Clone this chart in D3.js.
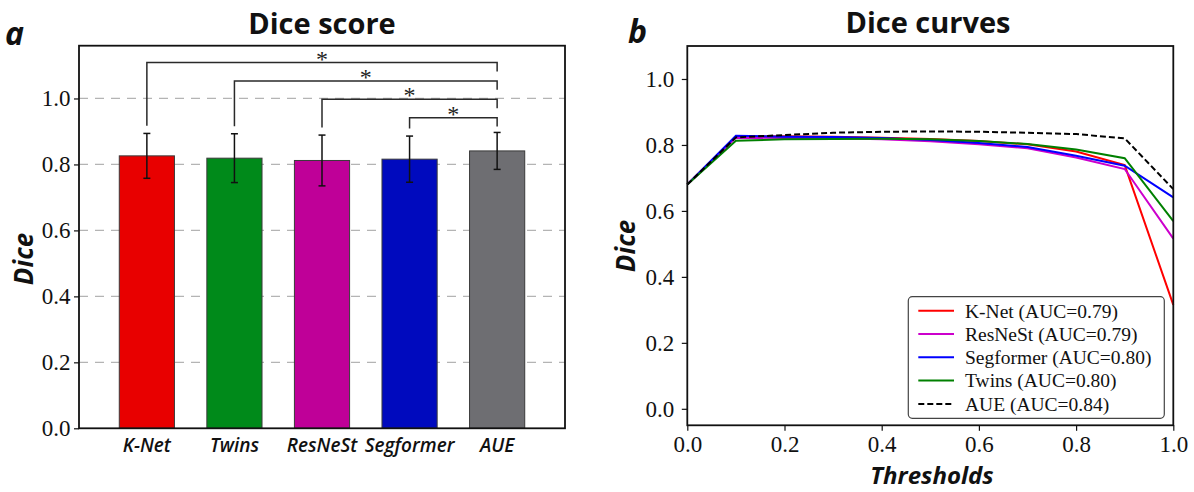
<!DOCTYPE html>
<html>
<head>
<meta charset="utf-8">
<script src="https://cdn.jsdelivr.net/npm/d3@7"></script>
<style>
  html, body { margin: 0; padding: 0; background: #fff; }
  svg { display: block; }
</style>
</head>
<body>
<svg id="chart" width="1194" height="492"></svg>
<script>
// ---------------- DATA ----------------
const categories = ["K-Net", "Twins", "ResNeSt", "Segformer", "AUE"];
const diceMeans  = [0.826, 0.819, 0.812, 0.816, 0.841];
const diceErrors = [0.068, 0.074, 0.077, 0.070, 0.056];
const barColors  = ["#e80000", "#008a1a", "#bf0098", "#000abe", "#6e6e72"];
const comparisons = [["K-Net", "AUE"], ["Twins", "AUE"], ["ResNeSt", "AUE"], ["Segformer", "AUE"]];
const compLabels  = ["*", "*", "*", "*"];
const barTicks = [0.0, 0.2, 0.4, 0.6, 0.8, 1.0];

const thresholds = [0.0, 0.1, 0.2, 0.3, 0.4, 0.5, 0.6, 0.7, 0.8, 0.9, 1.0];
const knetCurve      = [0.680, 0.825, 0.826, 0.825, 0.822, 0.818, 0.812, 0.802, 0.780, 0.739, 0.315];
const resnestCurve   = [0.680, 0.822, 0.821, 0.820, 0.817, 0.811, 0.802, 0.790, 0.762, 0.727, 0.516];
const segformerCurve = [0.680, 0.828, 0.825, 0.824, 0.821, 0.815, 0.806, 0.794, 0.767, 0.737, 0.641];
const twinsCurve     = [0.680, 0.813, 0.817, 0.818, 0.819, 0.817, 0.812, 0.803, 0.786, 0.760, 0.569];
const aueCurve       = [0.680, 0.823, 0.830, 0.837, 0.840, 0.841, 0.840, 0.837, 0.833, 0.820, 0.666];
const curveNames  = ["K-Net (AUC=0.79)", "ResNeSt (AUC=0.79)", "Segformer (AUC=0.80)", "Twins (AUC=0.80)", "AUE (AUC=0.84)"];
const curveColors = ["#ff0000", "#cc00cc", "#0000ff", "#008000", "#000000"];
const curveTicksX = [0.0, 0.2, 0.4, 0.6, 0.8, 1.0];
const curveTicksY = [0.0, 0.2, 0.4, 0.6, 0.8, 1.0];

// ---------------- SETUP ----------------
const svg = d3.select("#chart");
const serif = "'Liberation Serif', 'Times New Roman', serif";
const sans = "'Open Sans', 'Lato', sans-serif";
const fmt = d3.format(".1f");

// ================= PANEL A =================
const A = { left: 79, right: 565, top: 45.7, bottom: 428.3 };
const xA = d3.scaleBand().domain(categories).range([A.left, A.right]).paddingInner(0.37).paddingOuter(0.46);
const yA = d3.scaleLinear().domain([0, 1.16]).range([A.bottom, A.top]);

const gA = svg.append("g");

// grid
gA.append("g").selectAll("line").data(barTicks.filter(d => d > 0)).join("line")
  .attr("x1", A.left).attr("x2", A.right)
  .attr("y1", d => yA(d)).attr("y2", d => yA(d))
  .attr("stroke", "#b4b4b4").attr("stroke-width", 1.3).attr("stroke-dasharray", "9,7");

// bars
gA.append("g").selectAll("rect").data(categories).join("rect")
  .attr("x", d => xA(d)).attr("width", xA.bandwidth())
  .attr("y", (d, i) => yA(diceMeans[i]))
  .attr("height", (d, i) => yA(0) - yA(diceMeans[i]))
  .attr("fill", (d, i) => barColors[i])
  .attr("stroke", "#3a3a3a").attr("stroke-width", 1);

// error bars
const eb = gA.append("g").attr("stroke", "#111").attr("stroke-width", 1.5);
categories.forEach((c, i) => {
  const cx = xA(c) + xA.bandwidth() / 2;
  const lo = yA(diceMeans[i] - diceErrors[i]), hi = yA(diceMeans[i] + diceErrors[i]);
  eb.append("line").attr("x1", cx).attr("x2", cx).attr("y1", lo).attr("y2", hi);
  eb.append("line").attr("x1", cx - 3.5).attr("x2", cx + 3.5).attr("y1", lo).attr("y2", lo);
  eb.append("line").attr("x1", cx - 3.5).attr("x2", cx + 3.5).attr("y1", hi).attr("y2", hi);
});

// significance brackets
const br = gA.append("g");
comparisons.forEach((pair, k) => {
  const i0 = categories.indexOf(pair[0]), i1 = categories.indexOf(pair[1]);
  const x0 = xA(pair[0]) + xA.bandwidth() / 2, x1 = xA(pair[1]) + xA.bandwidth() / 2;
  const level = 1.109 - k * 0.0557;
  const leftEnd = diceMeans[i0] + diceErrors[i0] + 0.023;
  const rightEnd = level - 0.027;
  br.append("path")
    .attr("d", `M${x0},${yA(leftEnd)}V${yA(level)}H${x1}V${yA(rightEnd)}`)
    .attr("fill", "none").attr("stroke", "#2a2a2a").attr("stroke-width", 1.5);
  br.append("text").attr("x", (x0 + x1) / 2).attr("y", yA(level) + 4)
    .attr("text-anchor", "middle").attr("font-family", serif).attr("font-size", 24)
    .attr("fill", "#222").text(compLabels[k]);
});

// frame
gA.append("rect").attr("x", A.left).attr("y", A.top)
  .attr("width", A.right - A.left).attr("height", A.bottom - A.top)
  .attr("fill", "none").attr("stroke", "#111").attr("stroke-width", 1.8);

// y axis
const axA = gA.append("g").attr("transform", `translate(${A.left},0)`)
  .call(d3.axisLeft(yA).tickValues(barTicks).tickFormat(fmt).tickSize(5).tickPadding(3.5));
axA.select(".domain").remove();
axA.selectAll("line").attr("stroke", "#111").attr("stroke-width", 1.2);
axA.selectAll("text").attr("font-family", serif).attr("font-size", 23).attr("fill", "#111");

// x labels
gA.append("g").selectAll("text").data(categories).join("text")
  .attr("x", d => xA(d) + xA.bandwidth() / 2).attr("y", 452)
  .attr("text-anchor", "middle").attr("font-family", sans).attr("font-style", "italic")
  .attr("font-weight", 600).attr("font-size", 19).attr("fill", "#111").text(d => d);

// labels
gA.append("text").attr("x", 322).attr("y", 34).attr("text-anchor", "middle")
  .attr("font-family", sans).attr("font-weight", 700).attr("font-size", 29).attr("fill", "#111").text("Dice score");
gA.append("text").attr("x", 5).attr("y", 45)
  .attr("font-family", sans).attr("font-weight", 700).attr("font-style", "italic").attr("font-size", 32).attr("fill", "#111").text("a");
gA.append("text").attr("transform", "translate(33,259) rotate(-90)").attr("text-anchor", "middle")
  .attr("font-family", sans).attr("font-weight", 700).attr("font-style", "italic").attr("font-size", 26).attr("fill", "#111").text("Dice");

// ================= PANEL B =================
const B = { left: 687.3, right: 1173.3, top: 46, bottom: 425.3 };
const xB = d3.scaleLinear().domain([0, 1]).range([B.left, B.right]);
const yB = d3.scaleLinear().domain([-0.05, 1.1]).range([B.bottom, B.top]);
const gB = svg.append("g");

const curves = [knetCurve, resnestCurve, segformerCurve, twinsCurve, aueCurve];
const line = d3.line().x((d, i) => xB(thresholds[i])).y(d => yB(d));
curves.forEach((c, k) => {
  gB.append("path").datum(c).attr("d", line)
    .attr("fill", "none").attr("stroke", curveColors[k]).attr("stroke-width", 2)
    .attr("stroke-dasharray", k === 4 ? "6,3" : null);
});

// frame
gB.append("rect").attr("x", B.left).attr("y", B.top)
  .attr("width", B.right - B.left).attr("height", B.bottom - B.top)
  .attr("fill", "none").attr("stroke", "#111").attr("stroke-width", 1.8);

const axBy = gB.append("g").attr("transform", `translate(${B.left},0)`)
  .call(d3.axisLeft(yB).tickValues(curveTicksY).tickFormat(fmt).tickSize(5.5).tickPadding(7.5));
axBy.select(".domain").remove();
const axBx = gB.append("g").attr("transform", `translate(0,${B.bottom})`)
  .call(d3.axisBottom(xB).tickValues(curveTicksX).tickFormat(fmt).tickSize(5.5).tickPadding(5));
axBx.select(".domain").remove();
[axBy, axBx].forEach(ax => {
  ax.selectAll("line").attr("stroke", "#111").attr("stroke-width", 1.2);
  ax.selectAll("text").attr("font-family", serif).attr("font-size", 23).attr("fill", "#111");
});

// legend
const L = { x: 908.3, y: 296.7, w: 256, h: 121.6 };
const lg = gB.append("g");
lg.append("rect").attr("x", L.x).attr("y", L.y).attr("width", L.w).attr("height", L.h)
  .attr("rx", 4).attr("fill", "#fff").attr("fill-opacity", 0.9)
  .attr("stroke", "#444").attr("stroke-width", 1.2);
curveNames.forEach((name, k) => {
  const cy = 310.7 + k * 23.3;
  lg.append("line").attr("x1", 918.3).attr("x2", 954).attr("y1", cy).attr("y2", cy)
    .attr("stroke", curveColors[k]).attr("stroke-width", 2)
    .attr("stroke-dasharray", k === 4 ? "6,3" : null);
  lg.append("text").attr("x", 965).attr("y", cy).attr("dy", "0.35em")
    .attr("font-family", serif).attr("font-size", 19.5).attr("fill", "#111").text(name);
});

// labels
gB.append("text").attr("x", 928).attr("y", 32.5).attr("text-anchor", "middle")
  .attr("font-family", sans).attr("font-weight", 700).attr("font-size", 29).attr("fill", "#111").text("Dice curves");
gB.append("text").attr("x", 628).attr("y", 42.5)
  .attr("font-family", sans).attr("font-weight", 700).attr("font-style", "italic").attr("font-size", 32).attr("fill", "#111").text("b");
gB.append("text").attr("transform", "translate(635,246) rotate(-90)").attr("text-anchor", "middle")
  .attr("font-family", sans).attr("font-weight", 700).attr("font-style", "italic").attr("font-size", 26).attr("fill", "#111").text("Dice");
gB.append("text").attr("x", 932).attr("y", 484).attr("text-anchor", "middle")
  .attr("font-family", sans).attr("font-weight", 700).attr("font-style", "italic").attr("font-size", 24).attr("fill", "#111").text("Thresholds");
</script>
</body>
</html>
